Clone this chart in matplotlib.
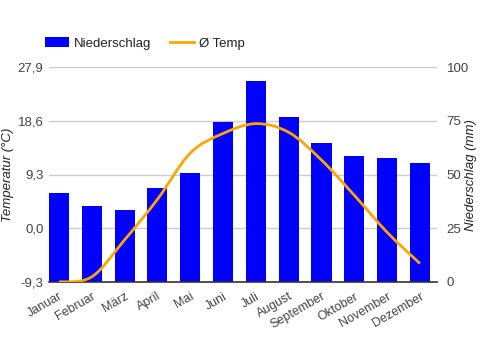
import numpy as np
import matplotlib.pyplot as plt
from matplotlib.path import Path
from matplotlib.patches import PathPatch, Patch
from matplotlib.lines import Line2D

plt.rcParams['font.family'] = ['Liberation Sans', 'DejaVu Sans']

# Klimadaten
monate = ["Januar", "Februar", "März", "April", "Mai", "Juni", "Juli",
          "August", "September", "Oktober", "November", "Dezember"]
niederschlag = [41.6, 35.5, 33.6, 43.9, 50.9, 74.6, 93.6, 76.9, 64.8, 58.8, 57.8, 55.5]
temp = [-9.3, -8.4, -2.0, 5.0, 13.0, 16.4, 18.1, 16.6, 11.8, 5.7, -0.7, -6.1]

temp_ticks = [-9.3, 0.0, 9.3, 18.6, 27.9]
temp_labels = ["-9,3", "0,0", "9,3", "18,6", "27,9"]
ns_ticks = [0, 25, 50, 75, 100]

text_col = "#444444"

fig = plt.figure(figsize=(4.81, 3.5), dpi=100)
ax = fig.add_axes([49 / 481, 68 / 350, 388 / 481, 215 / 350])
ax2 = ax.twinx()  # temperature axis (twinx resets ticks, so make it first)

x = np.arange(len(monate))

# bars on the main axes, scale on the right
ax.bar(x, niederschlag, width=0.61, color="#0000ff", zorder=2)
ax.set_ylim(0, 100)
ax.set_xlim(-0.305, 11.52)
ax.yaxis.tick_right()
ax.set_yticks(ns_ticks)
ax.set_yticklabels([str(t) for t in ns_ticks])
ax.grid(axis="y", color="#cccccc", linewidth=1, zorder=0)
ax.set_axisbelow(True)
for s in ["top", "left", "right"]:
    ax.spines[s].set_visible(False)
ax.spines["bottom"].set_color("#333333")
ax.spines["bottom"].set_linewidth(1.2)
ax.tick_params(axis="both", length=0, colors=text_col, labelsize=9.5)
ax.tick_params(axis="y", pad=7)
ax.set_xticks(x)
ax.set_xticklabels(monate, rotation=30, ha="right", rotation_mode="anchor", fontsize=9)
ax.tick_params(axis="x", pad=6)

# temperature, scale on the left
ax2.set_ylim(-9.3, 27.9)
ax2.yaxis.tick_left()
ax2.set_yticks(temp_ticks)
ax2.set_yticklabels(temp_labels)
ax2.tick_params(axis="y", length=0, colors=text_col, labelsize=9.5, pad=4)
for s in ax2.spines.values():
    s.set_visible(False)

# axis titles
fig.text(8 / 481, 1 - 175 / 350, "Temperatur (°C)", rotation=90, ha="center", va="center",
         style="italic", color="#222222", fontsize=9.5)
fig.text(471 / 481, 1 - 175 / 350, "Niederschlag (mm)", rotation=90, ha="center", va="center",
         style="italic", color="#222222", fontsize=9.5)

# smooth curve through the monthly values (cardinal spline -> bezier)
pts = np.column_stack([x, temp]).astype(float)
verts = [pts[0]]
codes = [Path.MOVETO]
k = 0.5
for i in range(len(pts) - 1):
    p0 = pts[i - 1] if i > 0 else pts[i]
    p1 = pts[i]
    p2 = pts[i + 1]
    p3 = pts[i + 2] if i + 2 < len(pts) else pts[i + 1]
    c1 = p1 + (p2 - p0) * k / 3
    c2 = p2 - (p3 - p1) * k / 3
    verts += [c1, c2, p2]
    codes += [Path.CURVE4] * 3
ax2.add_patch(PathPatch(Path(verts, codes), facecolor="none", edgecolor="#ffa500",
                        linewidth=2, zorder=3))

handles = [Patch(facecolor="#0000ff", edgecolor="none"),
           Line2D([], [], color="#ffa500", linewidth=2)]
fig.legend(handles, ["Niederschlag", "Ø Temp"], loc="upper left",
           bbox_to_anchor=(33 / 481, 1 - 25 / 350), ncol=2, frameon=False,
           fontsize=9.5, handlelength=1.8, handleheight=0.85, handletextpad=0.4,
           columnspacing=1.4, labelcolor="#222222")

fig.savefig("out.png", dpi=100)
